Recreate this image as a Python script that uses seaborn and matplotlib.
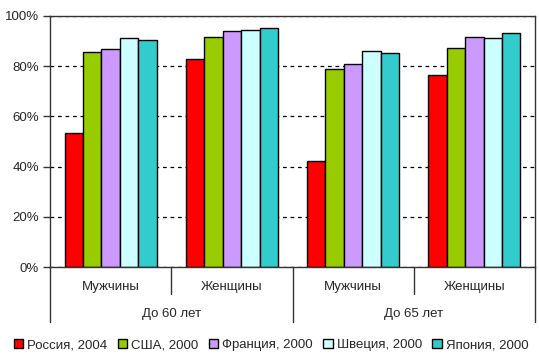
import numpy as np
import pandas as pd
import seaborn as sns
import matplotlib
matplotlib.use("Agg")
import matplotlib.pyplot as plt
import matplotlib.transforms as mtransforms
from matplotlib.patches import Patch
from matplotlib.ticker import PercentFormatter

# данные (%)
groups = ['Мужчины', 'Женщины', 'Мужчины', 'Женщины']
age_groups = ['До 60 лет', 'До 65 лет']
countries = ['Россия, 2004', 'США, 2000', 'Франция, 2000', 'Швеция, 2000', 'Япония, 2000']
russia = [53.5, 82.7, 42.4, 76.4]
usa = [85.5, 91.5, 78.8, 87.1]
france = [86.7, 93.9, 80.8, 91.5]
sweden = [91.1, 94.3, 85.9, 91.1]
japan = [90.3, 95.1, 85.1, 93.1]
colors = ['#FF0000', '#99CC00', '#CC99FF', '#CCFFFF', '#33CCCC']

cats = ['m60', 'f60', 'm65', 'f65']
rows = []
for country, vals in zip(countries, [russia, usa, france, sweden, japan]):
    for c, v in zip(cats, vals):
        rows.append({'cat': c, 'country': country, 'value': v})
df = pd.DataFrame(rows)

sns.set_style('white')
plt.rcParams['font.family'] = ['Liberation Sans', 'DejaVu Sans']
fs = 9.5

fig = plt.figure(figsize=(5.39, 3.64), dpi=100)
ax = fig.add_axes([50 / 539, 97 / 364, 485 / 539, 251 / 364])

sns.barplot(data=df, x='cat', y='value', hue='country', order=cats,
            hue_order=countries, palette=colors, width=0.76, gap=0,
            edgecolor='black', linewidth=1, saturation=1, legend=False, ax=ax)

ax.set_ylim(0, 100)
ax.set_xlim(-0.5, 3.5)
ax.set_yticks(np.arange(0, 101, 20))
ax.yaxis.set_major_formatter(PercentFormatter(decimals=0))
ax.yaxis.grid(True, color='black', linestyle=(0, (3, 3)), linewidth=0.9)
ax.set_axisbelow(True)
ax.tick_params(axis='y', left=True, length=5, width=1, color='#333333',
               labelsize=fs, pad=3)
ax.set_xticks([])
ax.set_xlabel('')
ax.set_ylabel('')
for s in ax.spines.values():
    s.set_color('#333333')
    s.set_linewidth(1)

# подписи категорий в два уровня
trans = mtransforms.blended_transform_factory(ax.transData, ax.transAxes)
for x in [0.5, 2.5]:
    ax.plot([x, x], [0, -0.108], color='#333333', lw=1, transform=trans, clip_on=False)
for x in [-0.5, 1.5, 3.5]:
    ax.plot([x, x], [0, -0.218], color='#333333', lw=1, transform=trans, clip_on=False)
for i, g in enumerate(groups):
    ax.text(i, -0.08, g, transform=trans, ha='center', va='center', fontsize=fs)
for i, a in enumerate(age_groups):
    ax.text(2 * i + 0.5, -0.187, a, transform=trans, ha='center', va='center', fontsize=fs)

handles = [Patch(facecolor=c, edgecolor='black', linewidth=1) for c in colors]
fig.legend(handles, countries, loc='center', bbox_to_anchor=(0.503, 19 / 364), ncol=5,
           frameon=False, fontsize=fs, handlelength=0.7, handleheight=0.7,
           handletextpad=0.3, columnspacing=0.8, borderaxespad=0)

fig.savefig('out.png', dpi=100)
